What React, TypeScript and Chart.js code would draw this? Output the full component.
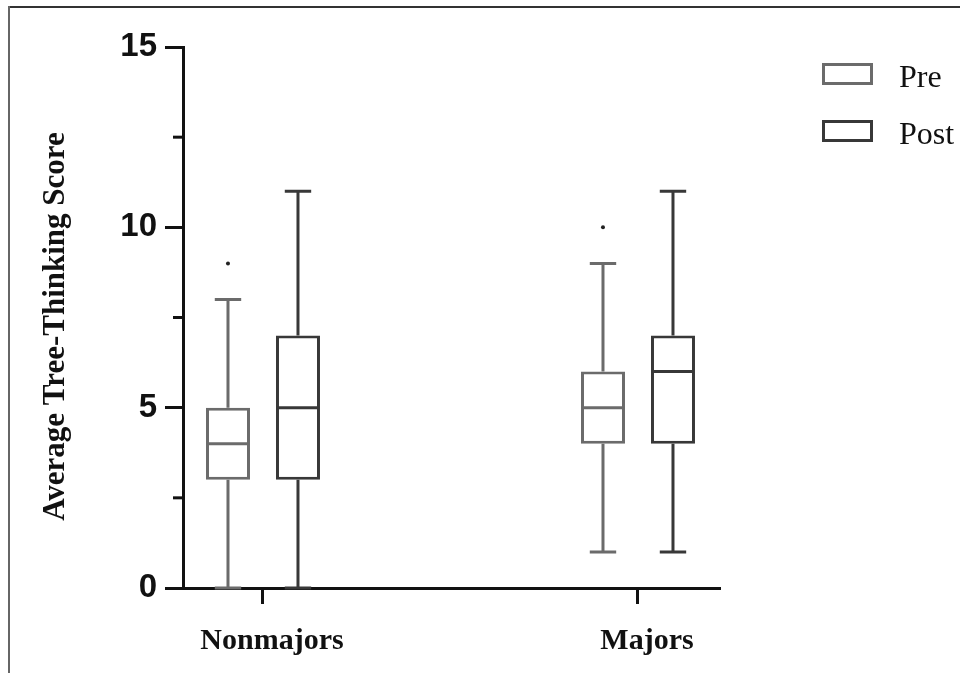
import React, { useEffect, useRef } from 'react';
import { Chart, registerables } from 'chart.js';

Chart.register(...registerables);

const categories = ['Nonmajors', 'Majors'];
const categoryPositions = [1, 2];
const seriesNames = ['Pre', 'Post'];
const seriesColors = ['#6b6b6b', '#383838'];

const preMin = [0, 1];
const preQ1 = [3, 4];
const preMedian = [4, 5];
const preQ3 = [5, 6];
const preMax = [8, 9];
const preOutliers = [[9], [10]];

const postMin = [0, 1];
const postQ1 = [3, 4];
const postMedian = [5, 6];
const postQ3 = [7, 7];
const postMax = [11, 11];
const postOutliers: number[][] = [[], []];

const yTicks = [0, 5, 10, 15];
const yMinorTicks = [2.5, 7.5, 12.5];
const yTitle = 'Average Tree-Thinking Score';

const stats = [
  { min: preMin, q1: preQ1, median: preMedian, q3: preQ3, max: preMax, outliers: preOutliers },
  { min: postMin, q1: postQ1, median: postMedian, q3: postQ3, max: postMax, outliers: postOutliers },
];

const AXIS = '#111111';
const LW = 3;

const framePlugin = {
  id: 'frame',
  beforeDraw(chart: any) {
    const { ctx, width, height } = chart;
    ctx.save();
    ctx.fillStyle = '#ffffff';
    ctx.fillRect(0, 0, width, height);
    ctx.fillStyle = '#333333';
    ctx.fillRect(8, 6, width - 8, 2);
    ctx.fillStyle = '#666666';
    ctx.fillRect(8, 6, 2, height - 6);
    ctx.restore();
  },
};

const yTitlePlugin = {
  id: 'yTitle',
  afterDraw(chart: any) {
    const { ctx } = chart;
    const y = chart.scales.y;
    ctx.save();
    ctx.translate(56, (y.top + y.bottom) / 2 + 9);
    ctx.rotate(-Math.PI / 2);
    ctx.fillStyle = '#111111';
    ctx.font = 'bold 31px "Liberation Serif", "Times New Roman", serif';
    ctx.textAlign = 'center';
    ctx.textBaseline = 'middle';
    ctx.fillText(yTitle, 0, 0);
    ctx.restore();
  },
};

const boxPlugin = {
  id: 'boxParts',
  beforeDatasetsDraw(chart: any) {
    const { ctx } = chart;
    const y = chart.scales.y;
    ctx.save();
    ctx.lineWidth = LW;
    ctx.lineCap = 'butt';
    stats.forEach((s, i) => {
      const meta = chart.getDatasetMeta(i);
      ctx.strokeStyle = seriesColors[i];
      meta.data.forEach((bar: any, j: number) => {
        const cap = bar.width * 0.6;
        const yMax = y.getPixelForValue(s.max[j]);
        const yMin = y.getPixelForValue(s.min[j]);
        const yQ1 = y.getPixelForValue(s.q1[j]);
        const yQ3 = y.getPixelForValue(s.q3[j]);
        ctx.beginPath();
        ctx.moveTo(bar.x, yQ3);
        ctx.lineTo(bar.x, yMax);
        ctx.moveTo(bar.x - cap / 2, yMax);
        ctx.lineTo(bar.x + cap / 2, yMax);
        ctx.moveTo(bar.x, yQ1);
        ctx.lineTo(bar.x, yMin);
        ctx.moveTo(bar.x - cap / 2, yMin);
        ctx.lineTo(bar.x + cap / 2, yMin);
        ctx.stroke();
      });
    });
    ctx.restore();
  },
  afterDatasetsDraw(chart: any) {
    const { ctx } = chart;
    const y = chart.scales.y;
    ctx.save();
    ctx.lineWidth = LW;
    stats.forEach((s, i) => {
      const meta = chart.getDatasetMeta(i);
      meta.data.forEach((bar: any, j: number) => {
        const ym = y.getPixelForValue(s.median[j]);
        ctx.strokeStyle = seriesColors[i];
        ctx.beginPath();
        ctx.moveTo(bar.x - bar.width / 2 + 1.5, ym);
        ctx.lineTo(bar.x + bar.width / 2 - 1.5, ym);
        ctx.stroke();
        ctx.fillStyle = '#222222';
        s.outliers[j].forEach((v) => {
          ctx.beginPath();
          ctx.arc(bar.x, y.getPixelForValue(v), 2, 0, Math.PI * 2);
          ctx.fill();
        });
      });
    });
    // minor ticks on y axis
    ctx.strokeStyle = AXIS;
    ctx.lineWidth = LW;
    yMinorTicks.forEach((v) => {
      const py = y.getPixelForValue(v);
      ctx.beginPath();
      ctx.moveTo(y.right - 10, py);
      ctx.lineTo(y.right, py);
      ctx.stroke();
    });
    ctx.restore();
  },
};

const legendPlugin = {
  id: 'customLegend',
  afterDraw(chart: any) {
    const { ctx } = chart;
    ctx.save();
    chart.data.datasets.forEach((ds: any, i: number) => {
      const bx = 822;
      const by = 63 + i * 57;
      const bw = 51;
      const bh = 22;
      ctx.fillStyle = '#ffffff';
      ctx.fillRect(bx, by, bw, bh);
      ctx.strokeStyle = ds.borderColor;
      ctx.lineWidth = LW;
      ctx.strokeRect(bx + 1.5, by + 1.5, bw - 3, bh - 3);
      ctx.fillStyle = '#111111';
      ctx.font = '32px "Liberation Serif", "Times New Roman", serif';
      ctx.textBaseline = 'alphabetic';
      ctx.textAlign = 'left';
      ctx.fillText(ds.label, 899, by + 24);
    });
    ctx.restore();
  },
};

export default function App() {
  const ref = useRef<HTMLCanvasElement | null>(null);

  useEffect(() => {
    if (!ref.current) return;
    const chart = new Chart(ref.current, {
      type: 'bar',
      data: {
        datasets: stats.map((s, i) => ({
          label: seriesNames[i],
          data: categoryPositions.map((x, j) => ({ x, y: [s.q1[j], s.q3[j]] })),
          backgroundColor: '#ffffff',
          borderColor: seriesColors[i],
          borderWidth: LW,
          borderSkipped: false,
          categoryPercentage: 0.3733,
          barPercentage: 0.6286,
        })) as any,
      },
      options: {
        responsive: false,
        animation: false,
        layout: { padding: { top: 47, right: 240, bottom: 0, left: 0 } },
        plugins: {
          legend: { display: false },
          tooltip: { enabled: false },
        },
        scales: {
          x: {
            type: 'linear',
            min: 0.7867,
            max: 2.2187,
            offset: false,
            afterBuildTicks: (axis: any) => {
              axis.ticks = categoryPositions.map((v) => ({ value: v }));
            },
            afterFit: (axis: any) => {
              axis.height = 85;
            },
            border: { display: true, color: AXIS, width: LW },
            grid: { display: true, offset: false, drawOnChartArea: false, drawTicks: true, tickLength: 16, tickWidth: LW, tickColor: AXIS },
            ticks: {
              autoSkip: false,
              maxRotation: 0,
              padding: 19,
              labelOffset: 9,
              color: '#111111',
              font: { family: '"Liberation Serif", "Times New Roman", serif', size: 30, weight: 'bold' },
              callback: (v: any) => {
                const k = categoryPositions.indexOf(Number(v));
                return k >= 0 ? categories[k] : '';
              },
            },
          },
          y: {
            min: 0,
            max: 15,
            afterBuildTicks: (axis: any) => {
              axis.ticks = yTicks.map((v) => ({ value: v }));
            },
            afterFit: (axis: any) => {
              axis.width = 183;
            },
            border: { display: true, color: AXIS, width: LW },
            grid: { display: true, drawOnChartArea: false, drawTicks: true, tickLength: 18, tickWidth: LW, tickColor: AXIS },
            ticks: {
              padding: 8,
              color: '#111111',
              font: { family: '"Liberation Sans", Arial, sans-serif', size: 33, weight: 'bold' },
            },
            title: { display: false },
          },
        },
      } as any,
      plugins: [framePlugin, boxPlugin, legendPlugin, yTitlePlugin],
    });
    return () => chart.destroy();
  }, []);

  return (
    <div style={{ position: 'absolute', left: 0, top: 0, width: 960, height: 673 }}>
      <canvas ref={ref} width={960} height={673} style={{ display: 'block', width: 960, height: 673 }} />
    </div>
  );
}
